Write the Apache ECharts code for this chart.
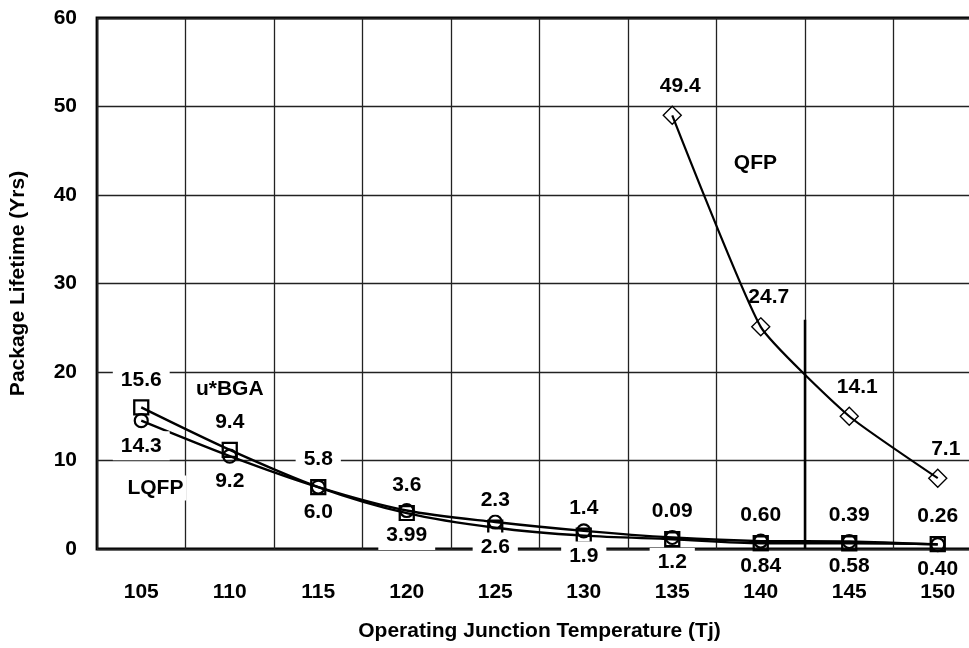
<!DOCTYPE html>
<html>
<head>
<meta charset="utf-8">
<script src="https://cdn.jsdelivr.net/npm/echarts@6/dist/echarts.min.js"></script>
<style>
html,body{margin:0;padding:0;background:#fff;}
#chart{width:969px;height:648px;}
</style>
</head>
<body>
<div id="chart"></div>
<script>
// ---- data ----
const categories = ['105','110','115','120','125','130','135','140','145','150'];
const bgaValues  = [16.0, 11.2, 7.0, 4.05, 2.4, 1.5, 1.1, 0.65, 0.65, 0.56];
const bgaLabels  = ['15.6','9.4','5.8','3.6','2.3','1.4','0.09','0.60','0.39','0.26'];
const lqfpValues = [14.5, 10.5, 7.0, 4.35, 3.05, 2.05, 1.3, 0.9, 0.85, 0.5];
const lqfpLabels = ['14.3','9.2','6.0','3.99','2.6','1.9','1.2','0.84','0.58','0.40'];
const qfpValues  = [null, null, null, null, null, null, 49.0, 25.1, 15.0, 8.0];
const qfpLabels  = ['','','','','','','49.4','24.7','14.1','7.1'];
const seriesNames = ['u*BGA', 'LQFP', 'QFP'];
const nameTagX = [110, 105.8, 139.7];   // temperature
const nameTagY = [18.1, 6.9, 43.6];     // years
const dividerX = 142.5;                 // temperature
const dividerY = [0, 25.9];             // years
const yTicks = [0, 10, 20, 30, 40, 50, 60];

const FONT = '"Liberation Sans", Arial, Helvetica, sans-serif';
const FS = 21;
const chart = echarts.init(document.getElementById('chart'));

const baseLabel = {
  show: true,
  color: '#000',
  fontFamily: FONT,
  fontWeight: 'bold',
  fontSize: FS,
  lineHeight: FS,
  backgroundColor: '#fff',
  padding: [4, 8]
};

chart.setOption({
  animation: false,
  backgroundColor: '#fff',
  grid: {
    left: 97, top: 18, width: 885, height: 531,
    outerBoundsMode: 'none',
    show: true, borderColor: '#000', borderWidth: 2.8, backgroundColor: 'transparent'
  },
  xAxis: [{
    type: 'category',
    data: categories,
    boundaryGap: true,
    name: 'Operating Junction Temperature (Tj)',
    nameLocation: 'middle',
    nameGap: 72,
    nameTextStyle: { color: '#000', fontFamily: FONT, fontWeight: 'bold', fontSize: FS },
    axisLine: { show: false },
    axisTick: { show: false },
    axisLabel: { color: '#000', fontFamily: FONT, fontWeight: 'bold', fontSize: FS, margin: 33, interval: 0 },
    splitLine: { show: true, interval: 0, lineStyle: { color: '#222', width: 1.3 } }
  }, {
    type: 'value',
    min: 102.5,
    max: 152.5,
    show: false
  }],
  yAxis: {
    type: 'value',
    min: yTicks[0],
    max: yTicks[yTicks.length - 1],
    interval: yTicks[1] - yTicks[0],
    name: 'Package Lifetime (Yrs)',
    nameLocation: 'middle',
    nameGap: 68,
    nameTextStyle: { color: '#000', fontFamily: FONT, fontWeight: 'bold', fontSize: FS },
    axisLine: { show: false },
    axisTick: { show: false },
    axisLabel: { color: '#000', fontFamily: FONT, fontWeight: 'bold', fontSize: FS, margin: 20 },
    splitLine: { show: true, lineStyle: { color: '#222', width: 1.3 } }
  },
  series: [
    {
      name: seriesNames[0],
      type: 'line',
      data: bgaValues,
      smooth: 0.3,
      symbol: 'rect',
      symbolSize: 14,
      lineStyle: { color: '#000', width: 2.3 },
      itemStyle: { color: 'rgba(0,0,0,0)', borderColor: '#000', borderWidth: 2.3 },
      label: Object.assign({}, baseLabel, {
        position: 'top',
        distance: 5,
        formatter: p => bgaLabels[p.dataIndex]
      }),
      z: 3
    },
    {
      name: seriesNames[1],
      type: 'line',
      data: lqfpValues,
      smooth: 0.3,
      symbol: 'circle',
      symbolSize: 13,
      lineStyle: { color: '#000', width: 2.3 },
      itemStyle: { color: 'rgba(0,0,0,0)', borderColor: '#000', borderWidth: 2.2 },
      label: Object.assign({}, baseLabel, {
        position: 'bottom',
        distance: 3,
        formatter: p => lqfpLabels[p.dataIndex]
      }),
      z: 3
    },
    {
      name: seriesNames[2],
      type: 'line',
      data: qfpValues,
      smooth: 0.15,
      symbol: 'diamond',
      symbolSize: 18,
      lineStyle: { color: '#000', width: 2.2 },
      itemStyle: { color: 'rgba(0,0,0,0)', borderColor: '#000', borderWidth: 1.4 },
      label: {
        show: true,
        position: 'top',
        distance: 9,
        offset: [8, 0],
        color: '#000',
        fontFamily: FONT,
        fontWeight: 'bold',
        fontSize: FS,
        formatter: p => qfpLabels[p.dataIndex]
      },
      z: 3
    },
    {
      name: 'divider',
      type: 'line',
      xAxisIndex: 1,
      data: [[dividerX, dividerY[0]], [dividerX, dividerY[1]]],
      symbol: 'none',
      lineStyle: { color: '#000', width: 2.5 },
      z: 2,
      silent: true
    },
    {
      name: 'names',
      type: 'scatter',
      xAxisIndex: 1,
      data: seriesNames.map((n, i) => [nameTagX[i], nameTagY[i], n]),
      symbolSize: 0,
      itemStyle: { opacity: 1 },
      label: {
        show: true,
        position: 'inside',
        formatter: p => p.value[2],
        color: '#000',
        fontFamily: FONT,
        fontWeight: 'bold',
        fontSize: FS,
        backgroundColor: '#fff',
        padding: [2, 3]
      },
      z: 4,
      silent: true
    }
  ]
});
</script>
</body>
</html>
